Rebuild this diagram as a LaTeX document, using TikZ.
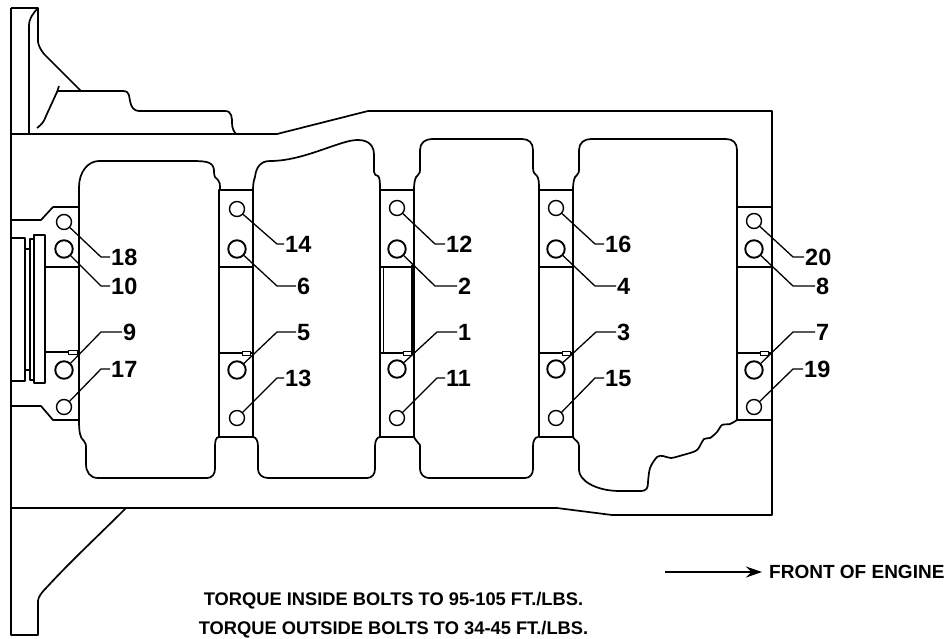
\documentclass[tikz,border=0pt]{standalone}
\usepackage{fontspec}
\setmainfont{Liberation Sans}
\usetikzlibrary{arrows.meta}
\tikzset{
	part/.style={line width=1.7pt,line join=round},
	boltin/.style={circle,draw,line width=1.9pt,inner sep=0pt,minimum size=17.5pt},
	boltout/.style={circle,draw,line width=1.4pt,inner sep=0pt,minimum size=15pt},
	num/.style={anchor=west,inner sep=1pt,text height=17pt,text depth=0pt,font=\fontsize{23.5}{23.5}\bfseries},
	note/.style={font=\fontsize{18.3}{18.3}\bfseries},
	leader/.style={line width=1.3pt}
}
\begin{document}
\begin{tikzpicture}[x=1pt,y=-1pt]
	\useasboundingbox (0,0) rectangle (950,638);
	% bell housing at the left
	\draw[part] (11,8) -- (11,635) -- (38,635) -- (38,601) .. controls (38,597) and (42,592) .. (48,586) .. controls (70,562) and (100,534) .. (126,508);
	\draw[part] (11,8) -- (38,8) -- (38,42) .. controls (39,47) and (41,50) .. (44,54) -- (81,91);
	\draw[part] (29,134) -- (29,26) .. controls (29,18) and (33,14) .. (37,9);
	\draw[part] (59,86) -- (57,92) -- (46,116) .. controls (44,122) and (41,125) .. (37,128);
	\draw[part] (57,91) -- (123,91) .. controls (130,91) and (129,97) .. (130,101) .. controls (131,107) and (134,111) .. (139,111) -- (225,111) .. controls (232,111) and (232,118) .. (232,123) .. controls (232,128) and (234,132) .. (236,134);
	% pan rail
	\draw[part] (11,134) -- (277,134) -- (368,111) -- (772,111) -- (772,515) -- (612,515) -- (557,508) -- (11,508);
	% cavities, top side
	\draw[part] (11,220) -- (41,220) -- (53,207) -- (79,207) -- (79,187) .. controls (79,172) and (88,161) .. (99,161) -- (192,161) .. controls (207,161) and (213,162) .. (214,170) .. controls (214,177) and (215,178) .. (218,180) .. controls (220,182) and (220,184) .. (220,190);
	\draw[part] (253,190) .. controls (253,183) and (254,180) .. (255,177) .. controls (256,168) and (260,161) .. (270,161) .. controls (290,161) and (310,154) .. (330,147) .. controls (342,143) and (350,140) .. (358,140) .. controls (370,140) and (374,147) .. (374,155) -- (374,172) .. controls (374,175) and (376,175) .. (378,176) .. controls (380,178) and (380,182) .. (380,190);
	\draw[part] (414,190) .. controls (414,182) and (415,177) .. (418,175) .. controls (420,173) and (420,172) .. (420,168) -- (420,150) .. controls (420,143) and (425,139) .. (432,139) -- (522,139) .. controls (529,139) and (533,143) .. (533,150) -- (533,168) .. controls (533,173) and (535,174) .. (537,176) .. controls (539,179) and (539,183) .. (539,190);
	\draw[part] (573,190) .. controls (573,182) and (574,177) .. (577,175) .. controls (579,173) and (579,172) .. (579,168) -- (579,150) .. controls (579,143) and (584,139) .. (591,139) -- (726,139) .. controls (733,139) and (737,143) .. (737,150) -- (737,207);
	% cavities, bottom side
	\draw[part] (11,406) -- (41,406) -- (53,420) -- (79,420) .. controls (79,432) and (80,438) .. (84,441) .. controls (86,443) and (86,445) .. (86,449) -- (86,464) .. controls (86,472) and (90,478) .. (98,478) -- (207,478) .. controls (212,478) and (215,474) .. (215,469) -- (215,446) .. controls (215,441) and (216,437) .. (219,437);
	\draw[part] (253,437) .. controls (256,437) and (258,441) .. (258,446) -- (258,469) .. controls (258,474) and (262,478) .. (268,478) -- (367,478) .. controls (372,478) and (375,474) .. (375,469) -- (375,446) .. controls (375,441) and (377,437) .. (380,437);
	\draw[part] (414,437) .. controls (416,441) and (418,442) .. (420,445) -- (420,469) .. controls (420,474) and (424,478) .. (429,478) -- (525,478) .. controls (530,478) and (533,474) .. (533,469) -- (533,446) .. controls (533,441) and (535,437) .. (538,437);
	\draw[part] (573,437) .. controls (575,441) and (579,441) .. (579,446) -- (579,470) .. controls (579,480) and (595,491) .. (620,491) -- (640,491) .. controls (647,491) and (648,488) .. (648,482);
	\draw[part] plot[smooth,tension=0.5] coordinates {(648,482) (650,468) (657,457) (663,456) (671,458) (683,455) (693,452) (698,449) (704,439) (710,438) (717,432) (722,425) (730,424) (737,420)};
	% main bearing caps
	\foreach \xa/\xb/\ya/\yb in {219/253/190/437,380/414/190/437,539/573/190/437,737/772/207/420}{
		\draw[part] (\xa,\yb) -- (\xa,\ya) -- (\xb,\ya) -- (\xb,\yb) -- cycle;
		\draw[part] (\xa,267) -- (\xb,267);
		\draw[part] (\xa,353) -- (\xb,353);
		\draw[line width=0.8pt,fill=white] (\xa+23,351) rectangle (\xa+31,355);
	}
	\draw[part] (79,207) -- (79,420);
	\draw[part] (45,267) -- (79,267);
	\draw[part] (45,352) -- (79,352);
	\draw[line width=0.8pt,fill=white] (68,350) rectangle (77,354);
	% end of the crank at the rear
	\draw[part] (11,238) -- (25,238) -- (25,381) -- (11,381);
	\draw[part] (25,249) -- (30,249);
	\draw[part] (25,370) -- (30,370);
	\draw[part] (33,239) -- (30,239) -- (30,380) -- (33,380);
	\draw[part] (34,235) rectangle (45,383);
	% window in the middle cap
	\draw[line width=1pt] (383,267) -- (383,353);
	\draw[line width=3.4pt] (412.5,265) -- (412.5,353);
	% bolts, inside
	\foreach \n/\bx/\by/\kx/\ky/\lx in {10/64/249/101/286/110,9/64/370/101/332/122,
		6/237/249/277/286/296,5/237/370/277/332/296,
		2/397/249/435/286/457,1/397/369/437/332/457,
		4/556/249/595/286/616,3/556/369/596/332/616,
		8/754/249/793/286/815,7/754/370/793/332/815}{
		\node[boltin] (b\n) at (\bx,\by) {};
		\coordinate (k\n) at (\kx,\ky);
		\node[num] (l\n) at (\lx,\ky) {\n};
		\draw[leader] (b\n) -- (k\n) -- (l\n);
	}
	% bolts, outside
	\foreach \n/\bx/\by/\kx/\ky/\lx in {18/64/222/101/257/110,17/64/407/101/369/110,
		14/237/209/277/244/284,13/237/418/277/378/284,
		12/397/208/435/244/445,11/397/418/437/378/445,
		16/556/208/595/244/604,15/556/418/595/378/604,
		20/754/221/793/257/804,19/754/407/793/369/803}{
		\node[boltout] (b\n) at (\bx,\by) {};
		\coordinate (k\n) at (\kx,\ky);
		\node[num] (l\n) at (\lx,\ky) {\n};
		\draw[leader] (b\n) -- (k\n) -- (l\n);
	}
	% texts
	\node[note,anchor=west,inner sep=7pt,font=\fontsize{19}{19}\bfseries] (front) at (762,572) {FRONT OF ENGINE};
	\coordinate (tail) at (665,572);
	\draw[line width=1.5pt,-{Stealth[length=16pt,width=11pt]}] (tail) -- (front);
	\node[note] (inside) at (393.5,600.5) {TORQUE INSIDE BOLTS TO 95-105 FT./LBS.};
	\node[note] (outside) at (393.5,629.5) {TORQUE OUTSIDE BOLTS TO 34-45 FT./LBS.};
\end{tikzpicture}
\end{document}
